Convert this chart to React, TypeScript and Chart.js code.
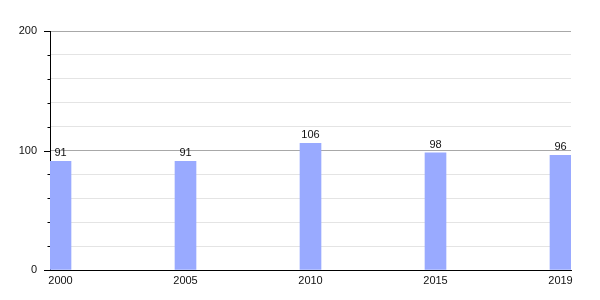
import React, { useEffect, useRef } from "react";
import { Chart, registerables } from "chart.js";

Chart.register(...registerables);

const years = ["2000", "2005", "2010", "2015", "2019"];
const values = [91, 91, 106, 98, 96];
const yMin = 0;
const yMax = 200;
const yStep = 20;
const yLabelStep = 100;

const FONT = "'Liberation Sans', Arial, sans-serif";

const valueLabels = {
  id: "valueLabels",
  afterDatasetsDraw(chart: any) {
    const ctx = chart.ctx;
    ctx.save();
    ctx.font = `11px ${FONT}`;
    ctx.fillStyle = "#111";
    ctx.textAlign = "center";
    ctx.textBaseline = "alphabetic";
    const meta = chart.getDatasetMeta(0);
    meta.data.forEach((el: any, i: number) => {
      ctx.fillText(String(values[i]), el.x, el.y - 5);
    });
    ctx.restore();
  },
};

const yTickMarks = {
  id: "yTickMarks",
  afterDraw(chart: any) {
    const ctx = chart.ctx;
    const y = chart.scales.y;
    const left = chart.chartArea.left;
    ctx.save();
    ctx.strokeStyle = "#000";
    ctx.lineWidth = 1;
    y.ticks.forEach((t: any) => {
      const py = Math.round(y.getPixelForValue(t.value)) + 0.5;
      const len = t.value % yLabelStep === 0 ? 6 : 2.5;
      ctx.beginPath();
      ctx.moveTo(left - len, py);
      ctx.lineTo(left, py);
      ctx.stroke();
    });
    ctx.restore();
  },
};

export default function App() {
  const ref = useRef<HTMLCanvasElement | null>(null);
  useEffect(() => {
    if (!ref.current) return;
    const chart = new Chart(ref.current, {
      type: "bar",
      data: {
        datasets: [
          {
            data: years.map((_, i) => ({ x: i, y: values[i] })) as any,
            backgroundColor: "#99aaff",
            borderWidth: 0,
            barThickness: 21,
          },
        ],
      },
      options: {
        animation: false,
        responsive: false,
        maintainAspectRatio: false,
        layout: { padding: { top: 31, right: 29, left: 0, bottom: 0 } },
        plugins: {
          legend: { display: false },
          tooltip: { enabled: false },
        },
        scales: {
          x: {
            type: "linear",
            offset: false,
            min: -0.084,
            max: 4.084,
            afterBuildTicks: (scale: any) => {
              scale.ticks = years.map((_, i) => ({ value: i }));
            },
            afterFit: (scale: any) => {
              scale.height = 30;
            },
            grid: { display: false, drawTicks: false },
            border: { display: true, color: "#000", width: 1 },
            ticks: {
              autoSkip: false,
              maxRotation: 0,
              padding: 4,
              color: "#111",
              font: { family: FONT, size: 11 },
              callback: (v: any) => years[v as number] ?? "",
            },
          },
          y: {
            min: yMin,
            max: yMax,
            afterFit: (scale: any) => {
              scale.width = 50;
            },
            grid: {
              drawTicks: false,
              color: (c: any) =>
                c.tick.value === 0 ? "#000" : c.tick.value % yLabelStep === 0 ? "#a8a8a8" : "#e4e4e4",
            },
            border: { display: true, color: "#000", width: 1 },
            ticks: {
              stepSize: yStep,
              padding: 13,
              color: "#111",
              font: { family: FONT, size: 11 },
              callback: (v: any) => (Number(v) % yLabelStep === 0 ? String(v) : ""),
            },
          },
        },
      },
      plugins: [valueLabels, yTickMarks],
    });
    return () => chart.destroy();
  }, []);
  return (
    <div style={{ position: "absolute", left: 0, top: 0, width: 600, height: 300, background: "#fff" }}>
      <canvas ref={ref} width={600} height={300} style={{ width: 600, height: 300 }} />
    </div>
  );
}
